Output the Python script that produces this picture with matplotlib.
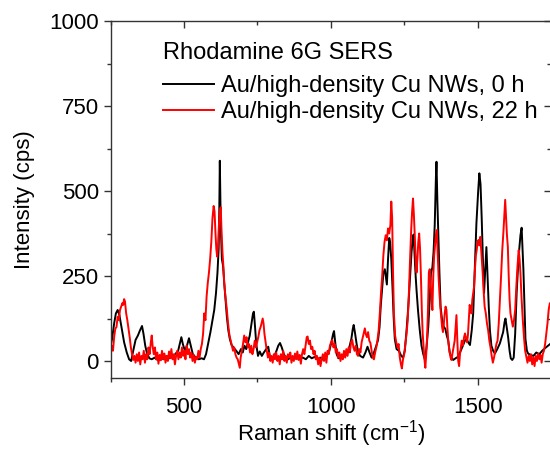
import matplotlib
matplotlib.use("Agg")
import matplotlib.pyplot as plt
from matplotlib.ticker import MultipleLocator

plt.rcParams['font.family'] = ['Liberation Sans', 'DejaVu Sans']

# ---- data ----
black_x = [250, 255, 262, 268, 274, 280, 288, 296, 305, 313, 320, 327, 335, 343, 350, 357, 362, 368, 374, 382,
           390, 400, 410, 420, 430, 440, 450, 460, 470, 480, 487, 491, 496, 503, 510, 517, 523, 530, 540, 550,
           560, 568, 575, 583, 590, 597, 603, 609, 614, 618, 620, 622, 624, 626, 629, 633, 637, 641, 646, 651,
           656, 662, 670, 678, 686, 694, 700, 706, 712, 718, 724, 730, 735, 738, 742, 746, 752, 758, 765, 772,
           780, 787, 793, 800, 808, 815, 821, 827, 833, 840, 847, 855, 865, 875, 885, 895, 905, 915, 925, 935,
           945, 955, 965, 975, 985, 995, 1002, 1008, 1011, 1015, 1020, 1026, 1035, 1045, 1055, 1063, 1070, 1075,
           1078, 1082, 1088, 1093, 1100, 1110, 1118, 1125, 1132, 1139, 1147, 1155, 1161, 1166, 1170, 1175, 1179,
           1184, 1188, 1191, 1195, 1199, 1202, 1206, 1210, 1214, 1218, 1224, 1232, 1240, 1246, 1252, 1258, 1264,
           1270, 1275, 1279, 1282, 1285, 1289, 1292, 1297, 1303, 1309, 1315, 1321, 1326, 1332, 1337, 1341, 1346,
           1350, 1354, 1358, 1360, 1363, 1366, 1370, 1374, 1379, 1385, 1390, 1395, 1400, 1405, 1411, 1417, 1425,
           1434, 1440, 1445, 1452, 1458, 1462, 1468, 1474, 1480, 1485, 1490, 1496, 1502, 1506, 1510, 1514, 1518,
           1522, 1526, 1530, 1534, 1538, 1542, 1547, 1553, 1559, 1567, 1576, 1582, 1587, 1592, 1595, 1599, 1604,
           1609, 1613, 1618, 1623, 1628, 1633, 1638, 1642, 1646, 1650, 1653, 1656, 1660, 1663, 1668, 1672, 1680,
           1690, 1700, 1710, 1720, 1730, 1740, 1750]
black_y = [45, 65, 110, 140, 150, 135, 95, 55, 25, 5, 0, 30, 62, 75, 90, 103, 80, 45, 22, 8,
           5, 10, 3, 12, 5, 15, 8, 12, 20, 30, 55, 70, 50, 30, 45, 67, 45, 20, 10, 5,
           8, 5, 20, 55, 85, 120, 150, 200, 260, 330, 430, 589, 470, 380, 300, 280, 230, 185, 130, 90,
           65, 47, 38, 30, 20, 35, 25, 45, 35, 55, 75, 110, 140, 145, 100, 50, 15, 28, 15, 25,
           35, 42, 10, 5, 15, 30, 45, 53, 40, 20, 10, 5, 12, 5, 15, 8, 10, 5, 15, 8,
           12, 5, 10, 3, 15, 30, 55, 80, 88, 55, 20, 8, 10, 15, 20, 40, 65, 95,
           106, 85, 50, 27, 15, 10, 25, 42, 25, 10, 25, 45, 62, 100, 160, 215, 258,
           270, 245, 225, 300, 362, 350, 300, 220, 130, 65, 35, 30, 15, 10, 30, 90, 160,
           250, 320, 360, 372, 320, 250, 209, 150, 91, 45, 20, 3, 40, 101, 180, 258, 275,
           320, 400, 540, 586, 470, 375, 260, 160, 120, 100, 95, 75, 60, 25, 10, 3, 8,
           13, 25, 35, 50, 62, 65, 55, 47, 90, 140, 260, 405, 500, 552, 520, 420, 300,
           200, 270, 335, 250, 160, 90, 45, 30, 22, 35, 52, 70, 85, 115, 125, 100, 70,
           30, 8, 3, 10, 80, 200, 280, 330, 370, 392, 330, 270, 150, 65, 30, 22, 18,
           15, 25, 20, 30, 38, 45, 52]

red_x = [250, 254, 258, 262, 266, 270, 274, 278, 282, 286, 290, 293, 296, 299, 303, 307, 311, 315, 319, 323,
         327, 331, 335, 339, 343, 347, 351, 355, 359, 363, 367, 371, 375, 379, 383, 387, 390, 393, 397, 401,
         405, 409, 413, 417, 421, 425, 429, 433, 437, 441, 445, 449, 453, 457, 461, 465, 469, 473, 477, 481,
         485, 489, 493, 497, 501, 505, 509, 513, 517, 521, 525, 529, 533, 537, 541, 545, 549, 553, 557, 561,
         565, 569, 573, 577, 581, 585, 589, 593, 597, 601, 604, 607, 610, 613, 616, 619, 622, 625, 628, 631,
         634, 637, 640, 643, 646, 649, 652, 655, 659, 663, 667, 671, 675, 679, 683, 687, 690, 693, 697, 701,
         705, 709, 713, 717, 721, 725, 729, 733, 737, 741, 745, 749, 753, 757, 761, 765, 768, 771, 774, 778,
         782, 786, 790, 794, 798, 802, 806, 810, 814, 818, 822, 826, 830, 834, 838, 842, 846, 850, 854, 858,
         862, 866, 870, 874, 878, 882, 886, 890, 894, 898, 902, 906, 910, 914, 918, 921, 925, 929, 933, 937,
         941, 945, 949, 953, 957, 961, 965, 969, 973, 977, 981, 985, 989, 993, 997, 1001, 1005, 1009, 1013, 1017,
         1021, 1025, 1029, 1033, 1037, 1041, 1045, 1049, 1053, 1057, 1061, 1065, 1069, 1073, 1077, 1081, 1085,
         1089, 1093, 1097, 1101, 1105, 1109, 1113, 1116, 1119, 1123, 1127, 1131, 1135, 1139, 1143, 1147, 1151,
         1155, 1159, 1163, 1167, 1171, 1175, 1179, 1183, 1187, 1191, 1195, 1199, 1203, 1206, 1209, 1212, 1215,
         1219, 1223, 1227, 1231, 1235, 1239, 1242, 1246, 1250, 1254, 1258, 1262, 1266, 1270, 1274, 1277, 1280,
         1283, 1286, 1289, 1292, 1295, 1298, 1301, 1304, 1307, 1310, 1313, 1316, 1319, 1322, 1325, 1328, 1331,
         1334, 1337, 1340, 1343, 1346, 1349, 1352, 1355, 1358, 1361, 1364, 1367, 1370, 1373, 1376, 1379, 1382,
         1385, 1388, 1391, 1394, 1397, 1400, 1404, 1408, 1411, 1414, 1418, 1422, 1425, 1428, 1431, 1434, 1437,
         1440, 1443, 1446, 1450, 1454, 1457, 1460, 1464, 1467, 1470, 1473, 1476, 1479, 1482, 1485, 1488, 1491,
         1494, 1497, 1500, 1503, 1506, 1509, 1512, 1515, 1518, 1521, 1524, 1528, 1532, 1536, 1540, 1544, 1548,
         1552, 1556, 1560, 1564, 1568, 1572, 1576, 1580, 1584, 1588, 1591, 1594, 1597, 1600, 1603, 1606, 1609,
         1612, 1616, 1620, 1624, 1628, 1632, 1636, 1640, 1643, 1646, 1650, 1654, 1658, 1662, 1666, 1670, 1674,
         1678, 1682, 1686, 1690, 1694, 1698, 1702, 1706, 1710, 1714, 1718, 1722, 1726, 1730, 1734, 1738, 1742,
         1746, 1750]
red_y = [20, 45, 30, 70, 95, 100, 130, 120, 150, 160, 170, 165, 182, 175, 140, 120, 95, 70, 40, 20,
         3, 15, -5, 20, 0, 25, -10, 15, 5, 30, -5, 20, 5, 40, 20, 55, 75, 45, 20, 40,
         5, 25, -8, 18, 2, 30, 5, 22, -5, 15, 0, 28, 8, 35, 5, 20, -10, 15, 30, 5,
         25, 10, 40, 15, 30, 5, 45, 20, 35, 10, 25, 0, 18, -5, 12, 5, 30, 10, 35, 50,
         80, 140, 120, 190, 230, 260, 300, 350, 420, 456, 440, 380, 330, 307, 340, 400, 440, 452, 380, 320,
         280, 230, 200, 175, 150, 120, 95, 75, 60, 45, 30, 40, 20, 10, 5, -10, -20, 10, 30, 50,
         75, 55, 70, 40, 50, 25, 45, 20, 35, 60, 40, 55, 70, 90, 100, 115, 125, 110, 80, 55,
         30, 10, 25, 0, 15, -5, 20, 5, 25, 0, 15, -10, 20, 5, 30, 0, 15, -5, 20, 10,
         25, -5, 15, 0, 22, 5, 28, 3, 18, -8, 20, 35, 20, 45, 70, 72, 50, 60, 35, 42,
         20, 30, 5, 15, -10, 10, -15, 5, 20, 0, 25, -5, 30, 20, 45, 55, 62, 40, 50, 25,
         35, 10, 25, 0, 20, 5, 30, 10, 35, 15, 40, 25, 55, 62, 40, 30, 45,
         20, 15, 35, 25, 55, 70, 85, 96, 80, 70, 85, 60, 53, 30, 10, 5, 25,
         40, 62, 90, 140, 200, 250, 310, 350, 370, 355, 390, 375, 400, 469, 420, 260, 140,
         75, 55, 40, 50, 10, -10, -22, 5, 20, 50, 80, 120, 200, 300, 390, 440, 478,
         430, 370, 300, 260, 300, 350, 375, 330, 250, 150, 80, 40, 5, -20, 20, 70, 150,
         260, 270, 228, 190, 150, 250, 310, 340, 370, 385, 320, 250, 200, 160, 130, 100, 85,
         110, 140, 160, 150, 100, 60, 30, 10, 3, 20, 40, 60, 100, 135, 60, 0, -15,
         20, 40, 60, 45, 70, 81, 70, 55, 75, 120, 165, 150, 140, 180, 200, 219, 270,
         310, 326, 350, 356, 340, 365, 330, 290, 250, 200, 160, 140, 110, 90, 60, 40, 15,
         -5, 10, 30, 50, 60, 110, 179, 250, 326, 380, 430, 474, 420, 370, 336, 250, 180,
         140, 120, 101, 120, 150, 220, 280, 326, 300, 258, 180, 120, 70, 30, 13, -5, 15,
         0, 20, -10, 10, -15, 15, 0, 22, 5, 18, -5, 20, 30, 50, 81, 110, 150,
         170, 165]

legend_title = "Rhodamine 6G SERS"
labels = ["Au/high-density Cu NWs, 0 h", "Au/high-density Cu NWs, 22 h"]
colors = ["#000000", "#ff0000"]

x_ticks = [500, 1000, 1500]
y_ticks = [0, 250, 500, 750, 1000]

fig = plt.figure(figsize=(5.5, 4.5), dpi=100)
ax = fig.add_axes([0.2011, 0.16, 0.8007, 0.7933])

ax.plot(black_x, black_y, color=colors[0], lw=1.4, label=labels[0])
ax.plot(red_x, red_y, color=colors[1], lw=1.4, label=labels[1])

ax.set_xlim(250, 1750)
ax.set_ylim(-50, 1000)
ax.set_xticks(x_ticks)
ax.set_yticks(y_ticks)
ax.xaxis.set_minor_locator(MultipleLocator(250))
ax.yaxis.set_minor_locator(MultipleLocator(125))

spine_c = "#333333"
for s in ax.spines.values():
    s.set_color(spine_c)
    s.set_linewidth(1.0)

ax.tick_params(which='both', direction='out', top=False, right=False, colors=spine_c,
               labelcolor='black', labelsize=16, width=1.0)
ax.tick_params(which='major', length=5)
ax.tick_params(which='minor', length=3)
ax.tick_params(axis='x', which='major', pad=9)

# inward ticks on top and right
axt = ax.secondary_xaxis('top')
axt.set_xticks(x_ticks)
axt.xaxis.set_minor_locator(MultipleLocator(250))
axt.tick_params(which='both', direction='in', labeltop=False, colors=spine_c, width=1.0)
axt.tick_params(which='major', length=5)
axt.tick_params(which='minor', length=3)
axt.spines['top'].set_visible(False)
axr = ax.secondary_yaxis('right')
axr.set_yticks(y_ticks)
axr.yaxis.set_minor_locator(MultipleLocator(125))
axr.tick_params(which='both', direction='in', labelright=False, colors=spine_c, width=1.0)
axr.tick_params(which='major', length=5)
axr.tick_params(which='minor', length=3)
axr.spines['right'].set_visible(False)

ax.set_xlabel(r"Raman shift (cm$^{\mathregular{-1}}$)", fontsize=16, labelpad=0)
ax.set_ylabel("Intensity (cps)", fontsize=16, labelpad=10)

ax.text(0.119, 0.910, legend_title, transform=ax.transAxes, fontsize=17,
        ha='left', va='center')
leg = ax.legend(loc='upper left', bbox_to_anchor=(0.119, 0.848),
                frameon=False, fontsize=17,
                handlelength=2.15, handletextpad=0.3, borderaxespad=0, borderpad=0,
                labelspacing=0.17)

fig.savefig("out.png", dpi=100)
